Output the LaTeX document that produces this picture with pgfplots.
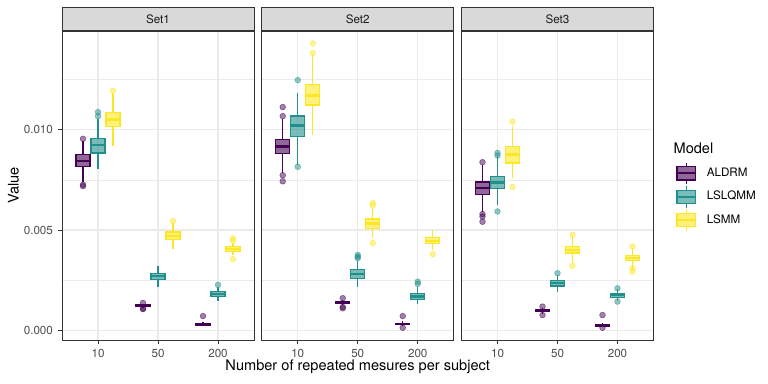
\documentclass[border=0pt]{standalone}
\usepackage{fontspec}
\setmainfont{TeX Gyre Heros}
\usepackage{pgfplots}
\pgfplotsset{compat=1.18}
\usepgfplotslibrary{statistics}

\definecolor{cA}{HTML}{440154}
\definecolor{cB}{HTML}{21908C}
\definecolor{cC}{HTML}{FDE725}
\definecolor{gr92}{HTML}{EBEBEB}
\definecolor{gr85}{HTML}{D9D9D9}
\definecolor{gr30}{HTML}{4D4D4D}
\definecolor{gr20}{HTML}{333333}
\definecolor{gr10}{HTML}{1A1A1A}

% values are in units of 1e-3 (boxplots overflow with the raw tiny values)
% one box: style, position, lower whisker, q1, median, q3, upper whisker, outliers
\newcommand{\bx}[8]{%
  \addplot[#1, boxplot prepared={draw position=#2, lower whisker=#3,
    lower quartile=#4, median=#5, upper quartile=#6, upper whisker=#7}]
    table[row sep=\\, y index=0] {y\\ #8};}
\newcommand{\bxn}[7]{%
  \addplot[#1, boxplot prepared={draw position=#2, lower whisker=#3,
    lower quartile=#4, median=#5, upper quartile=#6, upper whisker=#7}]
    coordinates {};}

\pgfplotsset{
  mdl/.style={color=#1, line width=0.8pt, mark=*, mark size=1.9pt,
    mark options={draw=#1, fill=#1, opacity=0.5, line width=0.4pt},
    boxplot/every box/.style={draw=#1, fill=#1, fill opacity=0.6},
    boxplot/every median/.style={line width=1.6pt},
    boxplot/whisker extend=0},
  boxlegend/.style={legend image code/.code={
    \draw[##1, fill opacity=0.6, line width=0.8pt] (0pt,-4.3pt) rectangle (12.2pt,4.3pt);
    \draw[##1, line width=1.4pt] (0pt,0pt) -- (12.2pt,0pt);
    \draw[##1, line width=0.8pt] (6.1pt,4.3pt) -- (6.1pt,7.1pt);
    \draw[##1, line width=0.8pt] (6.1pt,-4.3pt) -- (6.1pt,-7.1pt);}},
  panel/.style={
    scale only axis, width=126pt, height=202.78pt, anchor=south west,
    xmin=0.4, xmax=3.6, ymin=-0.46, ymax=14.9,
    xtick={1,2,3}, xticklabels={10,50,200},
    ytick={0,5,10}, yticklabels={0.000,0.005,0.010},
    minor ytick={2.5,7.5,12.5},
    xmajorgrids, ymajorgrids, yminorgrids,
    major grid style={color=gr92, line width=0.9pt},
    minor grid style={color=gr92, line width=0.45pt},
    axis line style={color=gr20, line width=0.6pt},
    tick align=outside, xtick pos=bottom, ytick pos=left,
    major tick length=2.4pt, minor tick length=0pt,
    tick style={color=gr20, line width=0.6pt},
    ticklabel style={font=\fontsize{7.65}{9}\selectfont, text=gr30},
    every axis title shift=0pt,
    title style={at={(0.5,1)}, anchor=south, yshift=0pt, fill=gr85, draw=gr20,
      line width=0.6pt, minimum width=126pt, minimum height=15.09pt,
      inner sep=0pt, text=gr10, font=\fontsize{7.65}{9}\selectfont},
    boxplot/draw direction=y,
    boxplot/box extend=0.23,
  },
}

\begin{document}
\begin{tikzpicture}
\useasboundingbox (0pt,0pt) rectangle (504pt,-252pt);

% ---- Set1
\begin{axis}[panel, at={(40.69pt,-223.13pt)}, title=Set1]
\bx{mdl=cA}{0.75}{7.41}{8.15}{8.43}{8.76}{9.41}{9.54\\ 7.26\\ 7.19\\}
\bx{mdl=cB}{1.00}{8.06}{8.84}{9.24}{9.54}{10.55}{10.87\\ 10.67\\}
\bx{mdl=cC}{1.25}{9.17}{10.14}{10.50}{10.84}{11.80}{11.93\\}
\bx{mdl=cA}{1.75}{1.15}{1.22}{1.25}{1.28}{1.35}{1.10\\ 1.38\\ 1.08\\}
\bxn{mdl=cB}{2.00}{2.19}{2.56}{2.71}{2.86}{3.22}
\bx{mdl=cC}{2.25}{4.06}{4.52}{4.71}{4.91}{5.35}{5.45\\}
\bx{mdl=cA}{2.75}{0.22}{0.29}{0.32}{0.35}{0.44}{0.73\\}
\bx{mdl=cB}{3.00}{1.50}{1.72}{1.83}{1.94}{2.16}{2.28\\}
\bx{mdl=cC}{3.25}{3.75}{3.94}{4.07}{4.19}{4.36}{4.59\\ 4.47\\ 3.56\\}
\end{axis}

% ---- Set2
\begin{axis}[panel, at={(171.77pt,-223.13pt)}, title=Set2,
  yticklabels={}, ytick style={draw=none}]
\bx{mdl=cA}{0.75}{7.85}{8.81}{9.17}{9.51}{10.54}{10.67\\ 11.12\\ 7.73\\ 7.43\\}
\bx{mdl=cB}{1.00}{8.23}{9.67}{10.20}{10.67}{11.83}{12.46\\ 8.15\\}
\bx{mdl=cC}{1.25}{9.72}{11.22}{11.70}{12.25}{13.72}{13.80\\ 14.28\\}
\bx{mdl=cA}{1.75}{1.28}{1.37}{1.40}{1.43}{1.55}{1.12\\ 1.18\\ 1.62\\}
\bx{mdl=cB}{2.00}{2.19}{2.61}{2.81}{3.03}{3.49}{3.77\\ 3.61\\ 3.68\\}
\bx{mdl=cC}{2.25}{4.61}{5.07}{5.33}{5.55}{6.10}{6.35\\ 6.22\\ 4.36\\}
\bx{mdl=cA}{2.75}{0.22}{0.30}{0.34}{0.38}{0.48}{0.73\\ 0.15\\}
\bx{mdl=cB}{3.00}{1.32}{1.55}{1.70}{1.84}{2.19}{2.44\\ 2.33\\}
\bx{mdl=cC}{3.25}{4.02}{4.32}{4.47}{4.64}{4.99}{3.81\\}
\end{axis}

% ---- Set3
\begin{axis}[panel, at={(302.86pt,-223.13pt)}, title=Set3,
  yticklabels={}, ytick style={draw=none},
  legend cell align=left,
  legend style={at={(1.1156,0.4638)}, anchor=west, draw=none, fill=none,
    inner sep=0pt, row sep=0.3pt, nodes={inner sep=0pt},
    font=\fontsize{7.65}{9}\selectfont,
    /tikz/every odd column/.append style={column sep=6.6pt}}]
\addlegendimage{boxlegend, draw=cA, fill=cA}
\addlegendentry{ALDRM}
\addlegendimage{boxlegend, draw=cB, fill=cB}
\addlegendentry{LSLQMM}
\addlegendimage{boxlegend, draw=cC, fill=cC}
\addlegendentry{LSMM}
\bx{mdl=cA}{0.75}{5.88}{6.77}{7.10}{7.39}{8.25}{8.38\\ 5.80\\ 5.68\\ 5.42\\}
\bx{mdl=cB}{1.00}{6.27}{7.06}{7.38}{7.68}{8.67}{8.84\\ 8.71\\ 5.93\\}
\bx{mdl=cC}{1.25}{7.60}{8.34}{8.76}{9.17}{10.20}{10.39\\ 7.15\\}
\bx{mdl=cA}{1.75}{0.85}{0.95}{1.00}{1.04}{1.15}{0.78\\ 1.20\\}
\bx{mdl=cB}{2.00}{1.94}{2.23}{2.36}{2.48}{2.78}{2.86\\}
\bx{mdl=cC}{2.25}{3.36}{3.86}{4.02}{4.19}{4.72}{4.77\\ 3.23\\}
\bx{mdl=cA}{2.75}{0.18}{0.24}{0.27}{0.30}{0.37}{0.78\\ 0.15\\}
\bx{mdl=cB}{3.00}{1.53}{1.67}{1.77}{1.84}{2.06}{2.11\\ 1.45\\}
\bx{mdl=cC}{3.25}{3.03}{3.48}{3.61}{3.74}{4.11}{4.19\\ 2.94\\ 3.11\\}
\end{axis}

\node[font=\fontsize{9.57}{11}\selectfont] at (234.77pt,-240.5pt) {Number of repeated mesures per subject};
\node[font=\fontsize{9.57}{11}\selectfont, rotate=90] at (8.86pt,-121.7pt) {Value};
\node[font=\fontsize{9.57}{11}\selectfont, anchor=west, inner sep=0pt] at (441.85pt,-97.3pt) {Model};
\end{tikzpicture}
\end{document}
